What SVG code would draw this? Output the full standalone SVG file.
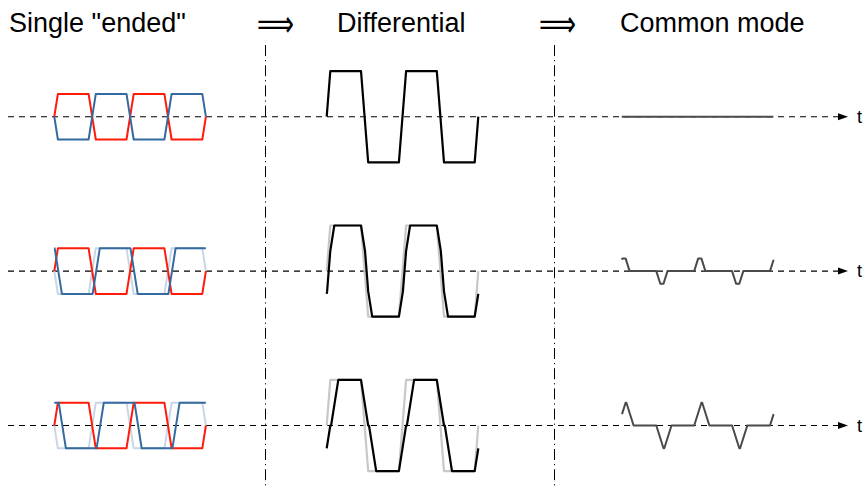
<svg xmlns="http://www.w3.org/2000/svg" width="868" height="488" viewBox="0 0 868 488">
<style>
.hdr{font-family:"Liberation Sans","DejaVu Sans",sans-serif;font-size:27px;fill:#000}
.arr{font-family:"DejaVu Sans","Liberation Sans",sans-serif;font-size:36px;fill:#000}
.tl{font-family:"Liberation Sans","DejaVu Sans",sans-serif;font-size:18px;fill:#000}
.axis{stroke:#000;stroke-width:1.1;stroke-dasharray:6 5;fill:none}
.div{stroke:#000;stroke-width:1;stroke-dasharray:11 4 1.2 4;fill:none}
.red{stroke:#ff1a0a;stroke-width:2;fill:none;stroke-linejoin:round}
.blue{stroke:#356aa0;stroke-width:2;fill:none;stroke-linejoin:round}
.gblue{stroke:#c9d6e5;stroke-width:2;fill:none;stroke-linejoin:round}
.diff{stroke:#000;stroke-width:2.2;fill:none;stroke-linejoin:round}
.gdiff{stroke:#c8c8c8;stroke-width:2.2;fill:none;stroke-linejoin:round}
.cm{stroke:#4a4a4a;stroke-width:2;fill:none;stroke-linejoin:round}
</style>
<defs>
<marker id="ah" markerUnits="userSpaceOnUse" markerWidth="11" markerHeight="8" viewBox="0 0 11 8" refX="0" refY="4" orient="auto">
<path d="M0,0.5 L10,4 L0,7.5 Z" fill="#000"/>
</marker>
<polyline id="red" points="0,0 3.6,-22.8 34.3,-22.8 41.5,22.8 72.2,22.8 79.4,-22.8 110.1,-22.8 117.3,22.8 148,22.8 151.6,0"/>
<polyline id="blue0" points="0,0 3.6,22.8 34.3,22.8 41.5,-22.8 72.2,-22.8 79.4,22.8 110.1,22.8 117.3,-22.8 148,-22.8 151.6,0"/>
<polyline id="blue4" points="0,-22.8 0.4,-22.8 7.6,22.8 38.3,22.8 45.5,-22.8 76.2,-22.8 83.4,22.8 114.1,22.8 121.3,-22.8 151.6,-22.8"/>
<polyline id="blue8" points="0,-22.8 4.4,-22.8 11.6,22.8 42.3,22.8 49.5,-22.8 80.2,-22.8 87.4,22.8 118.1,22.8 125.3,-22.8 151.6,-22.8"/>
<polyline id="diff0" points="0,0 3.6,-45.6 34.3,-45.6 41.5,45.6 72.2,45.6 79.4,-45.6 110.1,-45.6 117.3,45.6 148,45.6 151.6,0"/>
<polyline id="diff4" points="0,22.8 0.4,20.3 3.6,-20.3 7.6,-45.6 34.3,-45.6 38.3,-20.3 41.5,20.3 45.5,45.6 72.2,45.6 76.2,20.3 79.4,-20.3 83.4,-45.6 110.1,-45.6 114.1,-20.3 117.3,20.3 121.3,45.6 148,45.6 151.6,22.8"/>
<polyline id="diff8" points="0,22.8 3.6,0 4.4,0 11.6,-45.6 34.3,-45.6 41.5,0 42.3,0 49.5,45.6 72.2,45.6 79.4,0 80.2,0 87.4,-45.6 110.1,-45.6 117.3,0 118.1,0 125.3,45.6 148,45.6 151.6,22.8"/>
<polyline id="cm0" points="0,0 151.6,0"/>
<polyline id="cm4" points="0,-11.4 0.4,-12.7 3.6,-12.7 7.6,0 34.3,0 38.3,12.7 41.5,12.7 45.5,0 72.2,0 76.2,-12.7 79.4,-12.7 83.4,0 110.1,0 114.1,12.7 117.3,12.7 121.3,0 148,0 151.6,-11.4"/>
<polyline id="cm8" points="0,-11.4 3.6,-22.8 4.4,-22.8 11.6,0 34.3,0 41.5,22.8 42.3,22.8 49.5,0 72.2,0 79.4,-22.8 80.2,-22.8 87.4,0 110.1,0 117.3,22.8 118.1,22.8 125.3,0 148,0 151.6,-11.4"/>
</defs>

<g id="headers">
<text class="hdr" x="9" y="32">Single "ended"</text>
<text class="arr" x="257" y="36" textLength="37" lengthAdjust="spacingAndGlyphs">⟹</text>
<text class="hdr" x="337" y="32">Differential</text>
<text class="arr" x="539" y="36" textLength="37" lengthAdjust="spacingAndGlyphs">⟹</text>
<text class="hdr" x="620" y="32">Common mode</text>
</g>

<g id="connectors">
<line class="div" x1="265.5" y1="45" x2="265.5" y2="487"/>
<line class="div" x1="554.5" y1="45" x2="554.5" y2="487"/>
<line class="axis" x1="8" y1="116.7" x2="838" y2="116.7" marker-end="url(#ah)"/>
<line class="axis" x1="8" y1="271.1" x2="838" y2="271.1" marker-end="url(#ah)"/>
<line class="axis" x1="8" y1="425.5" x2="838" y2="425.5" marker-end="url(#ah)"/>
<text class="tl" x="857" y="123">t</text>
<text class="tl" x="857" y="277.4">t</text>
<text class="tl" x="857" y="431.8">t</text>
</g>

<g id="row1">
<g id="single1" transform="translate(54.3,116.7)">
<use href="#red" class="red"/>
<use href="#blue0" class="blue"/>
</g>
<g id="diff1" transform="translate(326.7,116.7)">
<use href="#diff0" class="diff"/>
</g>
<g id="cm1" transform="translate(621.7,116.7)">
<use href="#cm0" class="cm"/>
</g>
</g>

<g id="row2">
<g id="single2" transform="translate(54.3,271.1)">
<use href="#blue0" class="gblue"/>
<use href="#red" class="red"/>
<use href="#blue4" class="blue"/>
</g>
<g id="diff2" transform="translate(326.7,271.1)">
<use href="#diff0" class="gdiff"/>
<use href="#diff4" class="diff"/>
</g>
<g id="cm2" transform="translate(622,271.1)">
<use href="#cm4" class="cm"/>
</g>
</g>

<g id="row3">
<g id="single3" transform="translate(54.3,425.5)">
<use href="#blue0" class="gblue"/>
<use href="#red" class="red"/>
<use href="#blue8" class="blue"/>
</g>
<g id="diff3" transform="translate(326.7,425.5)">
<use href="#diff0" class="gdiff"/>
<use href="#diff8" class="diff"/>
</g>
<g id="cm3" transform="translate(622,425.5)">
<use href="#cm8" class="cm"/>
</g>
</g>
</svg>
